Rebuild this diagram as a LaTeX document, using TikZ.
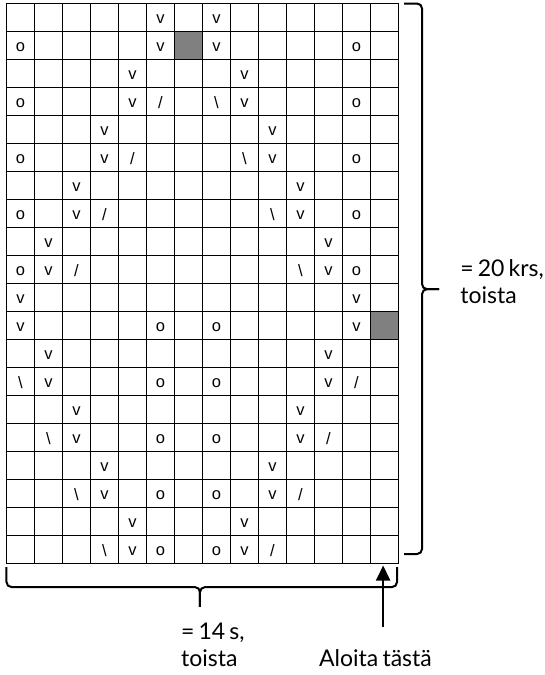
\documentclass[tikz,border=0pt]{standalone}
\usepackage{fontspec}
\setmainfont{Lato}[WordSpace=0.7]
\newfontfamily\chartfont{Liberation Sans}
\usetikzlibrary{arrows.meta}
\definecolor{shadegray}{HTML}{808080}
\tikzset{
	stitchnode/.style={
			font=\chartfont\fontsize{16.5}{18}\selectfont,
			inner sep=0pt,
			yshift=-1.5pt
		},
	notenode/.style={
			font=\fontsize{23}{27}\selectfont,
			align=left,
			anchor=north west,
			inner sep=0pt
		},
	shadecell/.style={
			fill=shadegray
		},
	gridline/.style={
			line width=1.8pt
		},
	bracestroke/.style={
			line width=2pt,
			rounded corners=5pt
		},
	startarrow/.style={
			line width=2pt,
			-{Triangle[width=14pt,length=15pt]}
		}
}

\begin{document}
\begin{tikzpicture}[x=28pt, y=-28pt]

  \useasboundingbox (-0.232,-0.125) rectangle (19.196,23.98);

  % shaded cells
  \fill[shadecell] (6,1) rectangle (7,2);
  \fill[shadecell] (13,11) rectangle (14,12);

  \draw[gridline, step=28pt] (0,0) grid (14,20);
  \draw[gridline] (0,0) rectangle (14,20);

  % rows 1-10
  \node[stitchnode] (r1c6) at (5.5,0.5) {v};
  \node[stitchnode] (r1c8) at (7.5,0.5) {v};

  \node[stitchnode] (r2c1) at (0.5,1.5) {o};
  \node[stitchnode] (r2c6) at (5.5,1.5) {v};
  \node[stitchnode] (r2c8) at (7.5,1.5) {v};
  \node[stitchnode] (r2c13) at (12.5,1.5) {o};

  \node[stitchnode] (r3c5) at (4.5,2.5) {v};
  \node[stitchnode] (r3c9) at (8.5,2.5) {v};

  \node[stitchnode] (r4c1) at (0.5,3.5) {o};
  \node[stitchnode] (r4c5) at (4.5,3.5) {v};
  \node[stitchnode] (r4c6) at (5.5,3.5) {/};
  \node[stitchnode] (r4c8) at (7.5,3.5) {\textbackslash};
  \node[stitchnode] (r4c9) at (8.5,3.5) {v};
  \node[stitchnode] (r4c13) at (12.5,3.5) {o};

  \node[stitchnode] (r5c4) at (3.5,4.5) {v};
  \node[stitchnode] (r5c10) at (9.5,4.5) {v};

  \node[stitchnode] (r6c1) at (0.5,5.5) {o};
  \node[stitchnode] (r6c4) at (3.5,5.5) {v};
  \node[stitchnode] (r6c5) at (4.5,5.5) {/};
  \node[stitchnode] (r6c9) at (8.5,5.5) {\textbackslash};
  \node[stitchnode] (r6c10) at (9.5,5.5) {v};
  \node[stitchnode] (r6c13) at (12.5,5.5) {o};

  \node[stitchnode] (r7c3) at (2.5,6.5) {v};
  \node[stitchnode] (r7c11) at (10.5,6.5) {v};

  \node[stitchnode] (r8c1) at (0.5,7.5) {o};
  \node[stitchnode] (r8c3) at (2.5,7.5) {v};
  \node[stitchnode] (r8c4) at (3.5,7.5) {/};
  \node[stitchnode] (r8c10) at (9.5,7.5) {\textbackslash};
  \node[stitchnode] (r8c11) at (10.5,7.5) {v};
  \node[stitchnode] (r8c13) at (12.5,7.5) {o};

  \node[stitchnode] (r9c2) at (1.5,8.5) {v};
  \node[stitchnode] (r9c12) at (11.5,8.5) {v};

  \node[stitchnode] (r10c1) at (0.5,9.5) {o};
  \node[stitchnode] (r10c2) at (1.5,9.5) {v};
  \node[stitchnode] (r10c3) at (2.5,9.5) {/};
  \node[stitchnode] (r10c11) at (10.5,9.5) {\textbackslash};
  \node[stitchnode] (r10c12) at (11.5,9.5) {v};
  \node[stitchnode] (r10c13) at (12.5,9.5) {o};

  % rows 11-20
  \node[stitchnode] (r11c1) at (0.5,10.5) {v};
  \node[stitchnode] (r11c13) at (12.5,10.5) {v};

  \node[stitchnode] (r12c1) at (0.5,11.5) {v};
  \node[stitchnode] (r12c6) at (5.5,11.5) {o};
  \node[stitchnode] (r12c8) at (7.5,11.5) {o};
  \node[stitchnode] (r12c13) at (12.5,11.5) {v};

  \node[stitchnode] (r13c2) at (1.5,12.5) {v};
  \node[stitchnode] (r13c12) at (11.5,12.5) {v};

  \node[stitchnode] (r14c1) at (0.5,13.5) {\textbackslash};
  \node[stitchnode] (r14c2) at (1.5,13.5) {v};
  \node[stitchnode] (r14c6) at (5.5,13.5) {o};
  \node[stitchnode] (r14c8) at (7.5,13.5) {o};
  \node[stitchnode] (r14c12) at (11.5,13.5) {v};
  \node[stitchnode] (r14c13) at (12.5,13.5) {/};

  \node[stitchnode] (r15c3) at (2.5,14.5) {v};
  \node[stitchnode] (r15c11) at (10.5,14.5) {v};

  \node[stitchnode] (r16c2) at (1.5,15.5) {\textbackslash};
  \node[stitchnode] (r16c3) at (2.5,15.5) {v};
  \node[stitchnode] (r16c6) at (5.5,15.5) {o};
  \node[stitchnode] (r16c8) at (7.5,15.5) {o};
  \node[stitchnode] (r16c11) at (10.5,15.5) {v};
  \node[stitchnode] (r16c12) at (11.5,15.5) {/};

  \node[stitchnode] (r17c4) at (3.5,16.5) {v};
  \node[stitchnode] (r17c10) at (9.5,16.5) {v};

  \node[stitchnode] (r18c3) at (2.5,17.5) {\textbackslash};
  \node[stitchnode] (r18c4) at (3.5,17.5) {v};
  \node[stitchnode] (r18c6) at (5.5,17.5) {o};
  \node[stitchnode] (r18c8) at (7.5,17.5) {o};
  \node[stitchnode] (r18c10) at (9.5,17.5) {v};
  \node[stitchnode] (r18c11) at (10.5,17.5) {/};

  \node[stitchnode] (r19c5) at (4.5,18.5) {v};
  \node[stitchnode] (r19c9) at (8.5,18.5) {v};

  \node[stitchnode] (r20c4) at (3.5,19.5) {\textbackslash};
  \node[stitchnode] (r20c5) at (4.5,19.5) {v};
  \node[stitchnode] (r20c6) at (5.5,19.5) {o};
  \node[stitchnode] (r20c8) at (7.5,19.5) {o};
  \node[stitchnode] (r20c9) at (8.5,19.5) {v};
  \node[stitchnode] (r20c10) at (9.5,19.5) {/};

  % braces
  \draw[bracestroke] (14.196,0) -- (14.839,0) -- (14.839,10.2) -- (15.446,10.2);
  \draw[bracestroke] (14.196,19.66) -- (14.839,19.66) -- (14.839,10.2) -- (15.446,10.2);
  \draw[bracestroke] (0,20.125) -- (0,20.84) -- (6.91,20.84) -- (6.91,21.55);
  \draw[bracestroke] (13.946,20.125) -- (13.946,20.84) -- (6.91,20.84) -- (6.91,21.55);

  % labels
  \node[notenode] (rowrepeat) at (16.2,9.14) {= 20 krs,\\toista};
  \node[notenode] (stitchrepeat) at (6.23,22.12) {= 14 s,\\toista};
  \node[notenode] (startnote) at (11.16,23.06) {Aloita tästä};

  \coordinate (starttail) at (13.45,22.27);
  \coordinate (startcell) at (13.45,20.07);
  \draw[startarrow] (starttail) -- (startcell);

\end{tikzpicture}
\end{document}
